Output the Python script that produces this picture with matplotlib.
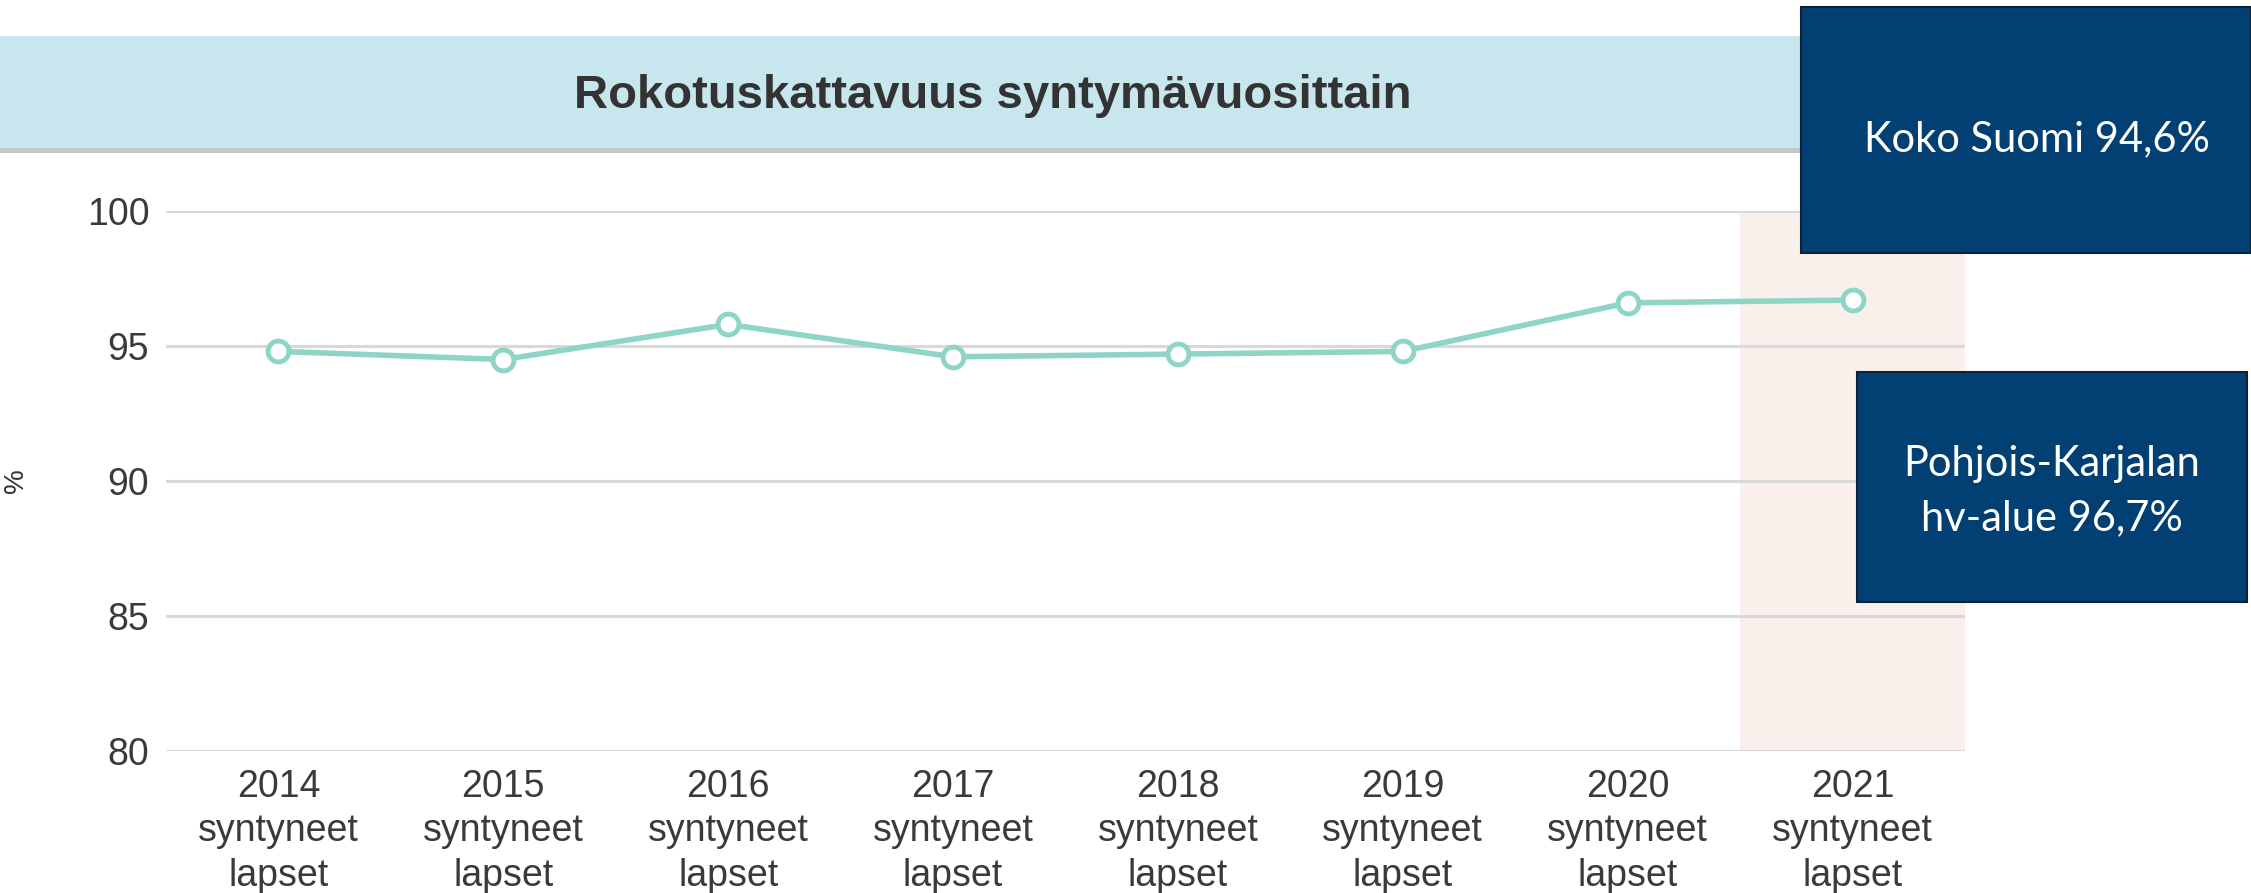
import matplotlib
matplotlib.use("Agg")
import matplotlib.pyplot as plt
from matplotlib.patches import Rectangle

# data
years = ["2014", "2015", "2016", "2017", "2018", "2019", "2020", "2021"]
coverage = [94.8, 94.5, 95.8, 94.6, 94.7, 94.8, 96.6, 96.7]
yticks = [80, 85, 90, 95, 100]
title = "Rokotuskattavuus syntymävuosittain"
box_finland = "Koko Suomi 94,6%"
box_region = "Pohjois-Karjalan\nhv-alue 96,7%"

W, H = 2251, 893
fig = plt.figure(figsize=(W / 100, H / 100), dpi=100)
fig.patch.set_facecolor("white")

def fx(px):
    return px / W

def fy(py):
    return 1 - py / H

# title band
fig.add_artist(Rectangle((0, fy(148)), fx(1985), (148 - 36) / H, transform=fig.transFigure,
                         facecolor="#C8E6EE", edgecolor="none", zorder=1))
fig.add_artist(Rectangle((0, fy(153)), fx(1985), 5 / H, transform=fig.transFigure,
                         facecolor="#C6C6C6", edgecolor="none", zorder=1))
fig.text(fx(993), fy(96), title, ha="center", va="center", fontsize=34,
         fontweight="bold", color="#333333", family="Liberation Sans", zorder=2)

# plot area
ax = fig.add_axes([fx(166), fy(751), fx(1965 - 166), (751 - 211) / H])
x = list(range(len(years)))
ax.axvspan(len(years) - 1.5, len(years) - 0.5, color="#FAF0EB", zorder=0, lw=0)
ax.plot(x, coverage, color="#8ED5C6", lw=4, marker="o", markersize=15,
        markerfacecolor="white", markeredgecolor="#8ED5C6", markeredgewidth=3.5, zorder=3)

ax.set_xlim(-0.5, len(years) - 0.5)
ax.set_ylim(80, 100)
ax.set_yticks(yticks)
ax.set_xticks(x)
ax.set_xticklabels([y + "\nsyntyneet\nlapset" for y in years], linespacing=1.3)
ax.grid(axis="y", color="#D9D9D9", lw=2.2, zorder=1)
ax.grid(axis="x", visible=False)
for s in ax.spines.values():
    s.set_visible(False)
ax.tick_params(axis="y", length=0, pad=12, labelsize=27, labelcolor="#3A3A3A")
ax.tick_params(axis="x", length=0, pad=13, labelsize=27, labelcolor="#3A3A3A")
for lbl in ax.get_xticklabels() + ax.get_yticklabels():
    lbl.set_family("Liberation Sans")
ax.set_ylabel("%", fontsize=20, color="#333333", family="Liberation Sans")
ax.yaxis.set_label_coords(-0.076, 0.5)

# info boxes
fig.add_artist(Rectangle((fx(1801), fy(253)), fx(2251 - 1801), (253 - 7) / H,
                         transform=fig.transFigure, facecolor="#023F72",
                         edgecolor="#0B2238", lw=1.5, zorder=5))
fig.text(fx(2037), fy(139), box_finland, ha="center", va="center", fontsize=30,
         color="white", family="Lato", zorder=6)
fig.add_artist(Rectangle((fx(1857), fy(602)), fx(2247 - 1857), (602 - 372) / H,
                         transform=fig.transFigure, facecolor="#023F72",
                         edgecolor="#0B2238", lw=1.5, zorder=5))
fig.text(fx(2052), fy(491), box_region, ha="center", va="center", fontsize=30,
         color="white", family="Lato", linespacing=1.5, zorder=6)

fig.savefig("out.png", dpi=100)
